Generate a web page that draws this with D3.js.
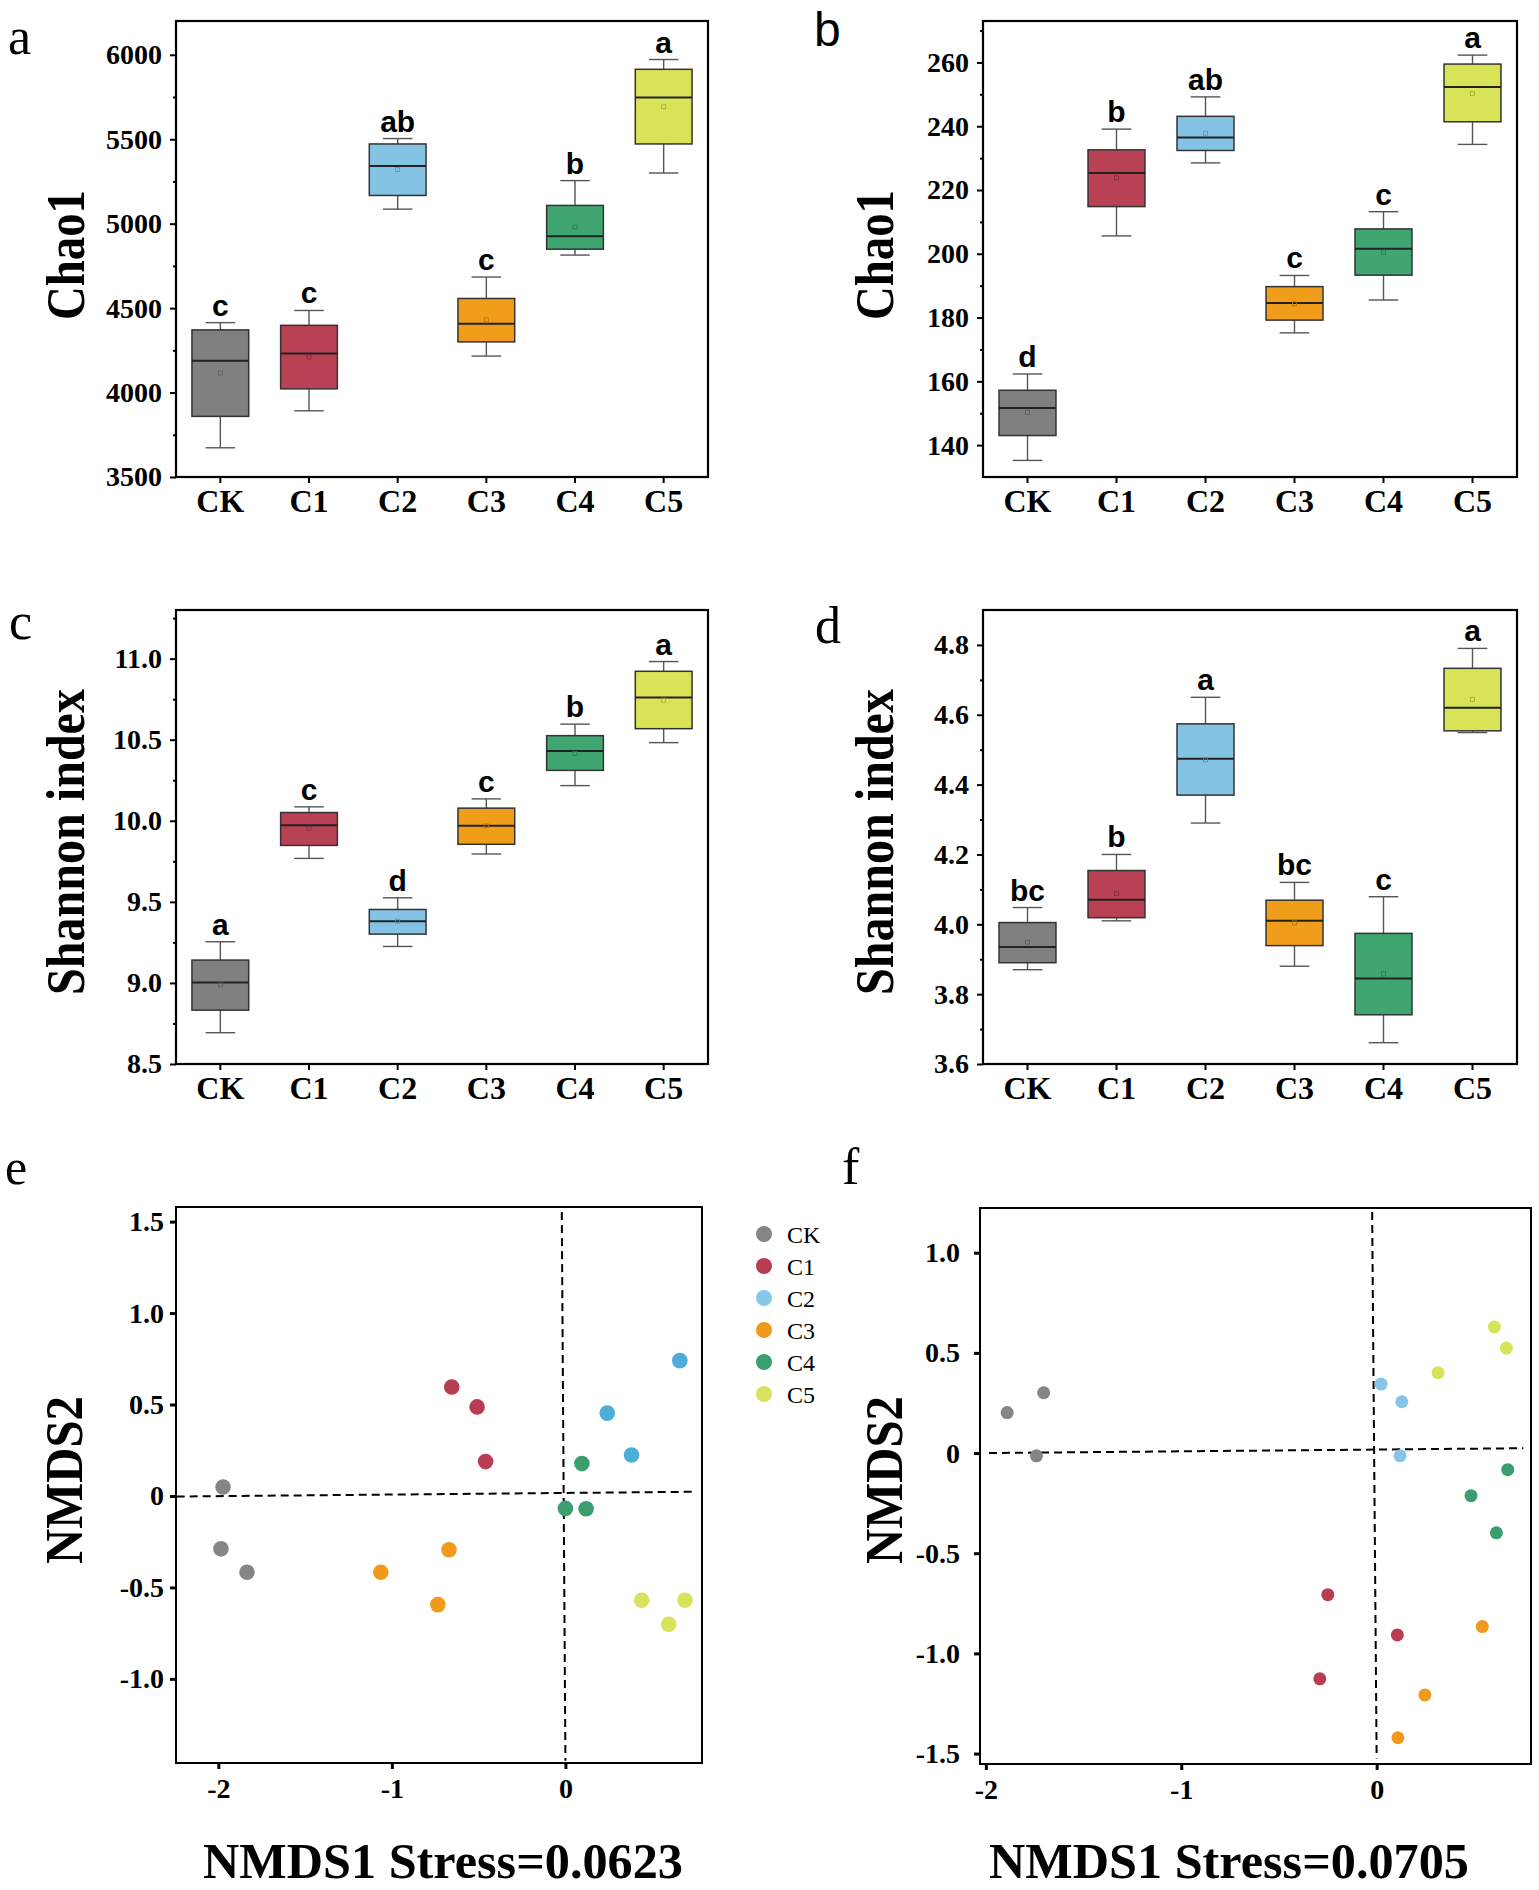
<!DOCTYPE html>
<html>
<head>
<meta charset="utf-8">
<title>Chao1 / Shannon / NMDS</title>
<script src="https://d3js.org/d3.v7.min.js"></script>
<style>
  body { margin: 0; background: #fff; }
  svg { display: block; }
</style>
</head>
<body>
<div id="chart"></div>
<script>
// ---- data ----
var groups = ["CK", "C1", "C2", "C3", "C4", "C5"];
var boxColors = ["#808080", "#b84153", "#85c3e4", "#f09d1a", "#3fa672", "#d8e358"];

// each row: [lower whisker, q1, median, q3, upper whisker, mean]
var chaoA = [
  [3673, 3859, 4188, 4371, 4414, 4116],
  [3892, 4022, 4231, 4398, 4486, 4210],
  [5086, 5167, 5341, 5472, 5504, 5320],
  [4216, 4300, 4408, 4557, 4684, 4431],
  [4814, 4849, 4925, 5108, 5255, 4980],
  [5300, 5472, 5747, 5914, 5972, 5692]
];
var lettersA = ["c", "c", "ab", "c", "b", "a"];
var ticksA = [3500, 4000, 4500, 5000, 5500, 6000];

var chaoB = [
  [135.2, 143.0, 151.6, 157.2, 162.3, 150.2],
  [205.6, 214.8, 225.3, 232.6, 239.1, 223.8],
  [228.5, 232.4, 236.5, 243.1, 249.2, 237.8],
  [175.2, 179.2, 184.6, 189.7, 193.2, 184.3],
  [185.5, 193.3, 201.6, 207.8, 213.2, 200.5],
  [234.3, 241.4, 252.3, 259.5, 262.3, 250.3]
];
var lettersB = ["d", "b", "ab", "c", "c", "a"];
var ticksB = [140, 160, 180, 200, 220, 240, 260];

var shannonC = [
  [8.693, 8.832, 9.002, 9.141, 9.254, 8.988],
  [9.768, 9.848, 9.973, 10.051, 10.086, 9.953],
  [9.225, 9.301, 9.381, 9.453, 9.525, 9.381],
  [9.795, 9.855, 9.969, 10.078, 10.135, 9.969],
  [10.217, 10.311, 10.430, 10.525, 10.596, 10.416],
  [10.482, 10.568, 10.760, 10.922, 10.982, 10.744]
];
var lettersC = ["a", "c", "d", "c", "b", "a"];
var ticksC = [8.5, 9.0, 9.5, 10.0, 10.5, 11.0];

var shannonD = [
  [3.870, 3.890, 3.935, 4.005, 4.048, 3.949],
  [4.010, 4.019, 4.070, 4.154, 4.200, 4.088],
  [4.290, 4.370, 4.474, 4.574, 4.650, 4.471],
  [3.880, 3.939, 4.010, 4.069, 4.120, 4.004],
  [3.661, 3.741, 3.845, 3.974, 4.079, 3.858],
  [4.549, 4.554, 4.620, 4.733, 4.790, 4.644]
];
var lettersD = ["bc", "b", "a", "bc", "c", "a"];
var ticksD = [3.6, 3.8, 4.0, 4.2, 4.4, 4.6, 4.8];

// NMDS points: [group index, NMDS1, NMDS2]
var nmdsE = [
  [0, -1.973, 0.049], [0, -1.985, -0.289], [0, -1.835, -0.417],
  [1, -0.655, 0.596], [1, -0.509, 0.487], [1, -0.460, 0.188],
  [2, 0.659, 0.740], [2, 0.241, 0.453], [2, 0.381, 0.224],
  [3, -0.671, -0.294], [3, -1.064, -0.417], [3, -0.735, -0.594],
  [4, 0.095, 0.177], [4, 0.000, -0.068], [4, 0.119, -0.070],
  [5, 0.439, -0.570], [5, 0.689, -0.570], [5, 0.595, -0.701]
];
var nmdsF = [
  [0, -1.891, 0.202], [0, -1.704, 0.301], [0, -1.741, -0.014],
  [1, -0.250, -0.707], [1, 0.106, -0.908], [1, -0.291, -1.127],
  [2, 0.023, 0.344], [2, 0.129, 0.256], [2, 0.120, -0.014],
  [3, 0.541, -0.866], [3, 0.247, -1.207], [3, 0.109, -1.421],
  [4, 0.671, -0.083], [4, 0.483, -0.213], [4, 0.613, -0.398],
  [5, 0.603, 0.629], [5, 0.664, 0.524], [5, 0.314, 0.401]
];
var pointColorsE = ["#858585", "#b83d52", "#4caed8", "#f09a1c", "#3a9e6e", "#d8e25a"];
var pointColorsF = ["#858585", "#b83d52", "#87c5e8", "#f09a1c", "#3a9e6e", "#d8e25a"];
var legendColors = ["#858585", "#b83d52", "#88c8e8", "#f09a1c", "#3a9e6e", "#d8e25a"];
var ticksEy = [-1.0, -0.5, 0, 0.5, 1.0, 1.5];
var ticksFy = [-1.5, -1.0, -0.5, 0, 0.5, 1.0];
var ticksX = [-2, -1, 0];
// reference lines drawn in data space: [x1, y1, x2, y2]
var guidesE = [[-2.24, -0.003, 0.747, 0.023], [-0.021, 1.552, 0, -1.448]];
var guidesF = [[-1.984, 0, 0.751, 0.024], [-0.023, 1.203, 0, -1.525]];

// ---- drawing ----
var W = 1539, H = 1890;
var serif = "'Liberation Serif', 'Times New Roman', serif";
var sans = "'Liberation Sans', Arial, sans-serif";

var svg = d3.select("#chart").append("svg")
  .attr("width", W).attr("height", H);
svg.append("rect").attr("width", W).attr("height", H).attr("fill", "#fff");

function panelLabel(txt, x, y, font, size) {
  svg.append("text").attr("x", x).attr("y", y)
    .attr("font-family", font).attr("font-size", size)
    .text(txt);
}

function yTitle(txt, x, y, len, size) {
  svg.append("text")
    .attr("transform", "translate(" + x + "," + y + ") rotate(-90)")
    .attr("text-anchor", "middle")
    .attr("font-family", serif).attr("font-weight", "bold")
    .attr("font-size", size)
    .attr("textLength", len).attr("lengthAdjust", "spacingAndGlyphs")
    .text(txt);
}

function styleAxis(g, size) {
  g.select(".domain").remove();
  g.selectAll(".tick line").attr("stroke", "#000").attr("stroke-width", 2);
  g.selectAll(".tick text")
    .attr("font-family", serif).attr("font-weight", "bold")
    .attr("font-size", size).attr("fill", "#000");
}

function boxPanel(p) {
  var xb = d3.scaleBand().domain(groups).range([p.x0, p.x1]);
  var y = d3.scaleLinear().domain(p.domain).range([p.y1, p.y0]);
  var g = svg.append("g");
  var bw = xb.bandwidth() * 0.64, cw = bw * 0.52;

  var gy = g.append("g").attr("transform", "translate(" + p.x0 + ",0)")
    .call(d3.axisLeft(y).tickValues(p.ticks).tickSize(6).tickPadding(8).tickFormat(p.fmt));
  styleAxis(gy, 28);
  var gm = g.append("g").attr("transform", "translate(" + p.x0 + ",0)")
    .call(d3.axisLeft(y).tickValues(p.minor).tickSize(3).tickFormat(""));
  styleAxis(gm, 10);
  var gx = g.append("g").attr("transform", "translate(0," + p.y1 + ")")
    .call(d3.axisBottom(xb).tickSize(6).tickPadding(6));
  styleAxis(gx, 32);

  var box = g.selectAll(".box").data(p.data).enter().append("g")
    .attr("transform", function(d, i) { return "translate(" + (xb(groups[i]) + xb.bandwidth() / 2) + ",0)"; });
  box.append("line")
    .attr("x1", 0).attr("x2", 0)
    .attr("y1", function(d) { return y(d[0]); })
    .attr("y2", function(d) { return y(d[4]); })
    .attr("stroke", "#555").attr("stroke-width", 1.4);
  box.selectAll(".cap").data(function(d) { return [d[0], d[4]]; }).enter().append("line")
    .attr("x1", -cw / 2).attr("x2", cw / 2)
    .attr("y1", function(v) { return y(v); }).attr("y2", function(v) { return y(v); })
    .attr("stroke", "#555").attr("stroke-width", 1.4);
  box.append("rect")
    .attr("x", -bw / 2).attr("width", bw)
    .attr("y", function(d) { return y(d[3]); })
    .attr("height", function(d) { return y(d[1]) - y(d[3]); })
    .attr("fill", function(d, i) { return boxColors[i]; })
    .attr("stroke", "#333").attr("stroke-width", 1.5);
  box.append("line")
    .attr("x1", -bw / 2).attr("x2", bw / 2)
    .attr("y1", function(d) { return y(d[2]); }).attr("y2", function(d) { return y(d[2]); })
    .attr("stroke", "#222").attr("stroke-width", 2);
  box.append("rect")
    .attr("x", -2).attr("width", 4).attr("height", 4)
    .attr("y", function(d) { return y(d[5]) - 2; })
    .attr("fill", "none").attr("stroke-width", 0.8)
    .attr("stroke", function(d, i) { return d3.color(boxColors[i]).darker(0.9); });
  box.append("text")
    .attr("text-anchor", "middle")
    .attr("y", function(d) { return y(d[4]) - 7; })
    .attr("font-family", sans).attr("font-weight", "bold").attr("font-size", 30)
    .text(function(d, i) { return p.letters[i]; });

  g.append("rect").attr("x", p.x0).attr("y", p.y0)
    .attr("width", p.x1 - p.x0).attr("height", p.y1 - p.y0)
    .attr("fill", "none").attr("stroke", "#000").attr("stroke-width", 2.2);
}

function scatterPanel(p) {
  var x = d3.scaleLinear().domain(p.xdom).range([p.x0, p.x1]);
  var y = d3.scaleLinear().domain(p.ydom).range([p.y1, p.y0]);
  var g = svg.append("g");
  var gy = g.append("g").attr("transform", "translate(" + p.x0 + ",0)")
    .call(d3.axisLeft(y).tickValues(p.yticks).tickSize(6).tickPadding(p.ypad)
      .tickFormat(function(v) { return v === 0 ? "0" : v.toFixed(1); }));
  styleAxis(gy, 28);
  gy.selectAll(".tick line").attr("stroke-width", 3);
  var gx = g.append("g").attr("transform", "translate(0," + p.y1 + ")")
    .call(d3.axisBottom(x).tickValues(ticksX).tickSize(6).tickPadding(9)
      .tickFormat(function(v) { return String(v); }));
  styleAxis(gx, 28);
  gx.selectAll(".tick line").attr("stroke-width", 3);

  g.selectAll(".guide").data(p.guides).enter().append("line")
    .attr("x1", function(d) { return x(d[0]); }).attr("y1", function(d) { return y(d[1]); })
    .attr("x2", function(d) { return x(d[2]); }).attr("y2", function(d) { return y(d[3]); })
    .attr("stroke", "#000").attr("stroke-width", 2).attr("stroke-dasharray", "8,5");

  g.selectAll(".pt").data(p.points).enter().append("circle")
    .attr("cx", function(d) { return x(d[1]); })
    .attr("cy", function(d) { return y(d[2]); })
    .attr("r", p.r)
    .attr("fill", function(d) { return p.colors[d[0]]; });

  g.append("rect").attr("x", p.x0).attr("y", p.y0)
    .attr("width", p.x1 - p.x0).attr("height", p.y1 - p.y0)
    .attr("fill", "none").attr("stroke", "#000").attr("stroke-width", 2);

  yTitle("NMDS2", p.titleX, 1480, 168, 52);
  svg.append("text").attr("x", p.xtitleX).attr("y", 1878)
    .attr("text-anchor", "middle")
    .attr("font-family", serif).attr("font-weight", "bold").attr("font-size", 50)
    .attr("textLength", 480).attr("lengthAdjust", "spacingAndGlyphs")
    .text(p.xtitle);
}

var fmt1 = function(v) { return v.toFixed(1); };

boxPanel({ x0: 176, x1: 708, y0: 21, y1: 477, domain: [3500, 6200], ticks: ticksA,
  minor: d3.range(3750, 6200, 500), fmt: d3.format("d"), data: chaoA, letters: lettersA });
boxPanel({ x0: 983, x1: 1517, y0: 21, y1: 477, domain: [130, 273], ticks: ticksB,
  minor: d3.range(150, 273, 20), fmt: d3.format("d"), data: chaoB, letters: lettersB });
boxPanel({ x0: 176, x1: 708, y0: 610, y1: 1064, domain: [8.5, 11.3], ticks: ticksC,
  minor: d3.range(8.75, 11.3, 0.5), fmt: fmt1, data: shannonC, letters: lettersC });
boxPanel({ x0: 983, x1: 1517, y0: 610, y1: 1064, domain: [3.6, 4.9], ticks: ticksD,
  minor: d3.range(3.7, 4.85, 0.2), fmt: fmt1, data: shannonD, letters: lettersD });

yTitle("Chao1", 84, 255, 130, 54);
yTitle("Chao1", 893, 255, 130, 54);
yTitle("Shannon index", 84, 842, 306, 54);
yTitle("Shannon index", 893, 842, 306, 54);

scatterPanel({ x0: 176, x1: 702, y0: 1207, y1: 1763, xdom: [-2.244, 0.787], ydom: [-1.46, 1.58],
  yticks: ticksEy, ypad: 6, points: nmdsE, colors: pointColorsE, r: 7.8, guides: guidesE,
  titleX: 82, xtitleX: 443, xtitle: "NMDS1 Stress=0.0623" });
scatterPanel({ x0: 980, x1: 1531, y0: 1208, y1: 1764, xdom: [-2.03, 0.79], ydom: [-1.552, 1.223],
  yticks: ticksFy, ypad: 14, points: nmdsF, colors: pointColorsF, r: 6.5, guides: guidesF,
  titleX: 902, xtitleX: 1229, xtitle: "NMDS1 Stress=0.0705" });

// legend of panel e
var leg = svg.append("g").selectAll("g").data(groups).enter().append("g")
  .attr("transform", function(d, i) { return "translate(764," + (1234 + i * 32) + ")"; });
leg.append("circle").attr("r", 8).attr("fill", function(d, i) { return legendColors[i]; });
leg.append("text").attr("x", 23).attr("y", 9)
  .attr("font-family", serif).attr("font-size", 24).text(function(d) { return d; });

panelLabel("a", 8, 54, serif, 52);
panelLabel("b", 814, 46, sans, 48);
panelLabel("c", 9, 639, serif, 52);
panelLabel("d", 815, 643, serif, 52);
panelLabel("e", 5, 1184, serif, 50);
panelLabel("f", 842, 1184, serif, 52);
</script>
</body>
</html>
